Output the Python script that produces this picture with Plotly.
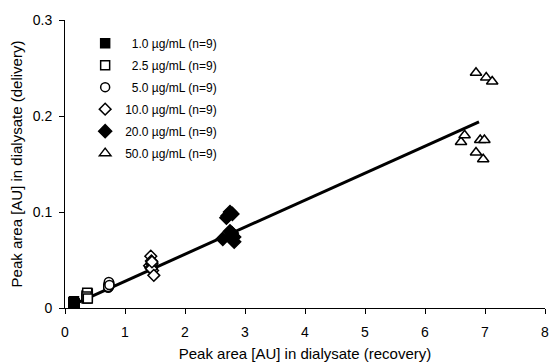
import plotly.graph_objects as go

# ---- data ----
labels = ["1.0 µg/mL (n=9)", "2.5 µg/mL (n=9)", "5.0 µg/mL (n=9)",
          "10.0 µg/mL (n=9)", "20.0 µg/mL (n=9)", "50.0 µg/mL (n=9)"]

x_1 = [0.14, 0.15, 0.16, 0.14, 0.15, 0.16, 0.15, 0.14, 0.16]
y_1 = [0.003, 0.004, 0.005, 0.006, 0.007, 0.004, 0.005, 0.006, 0.003]

x_2_5 = [0.36, 0.37, 0.38, 0.36, 0.37, 0.38, 0.37, 0.36, 0.38]
y_2_5 = [0.010, 0.011, 0.012, 0.013, 0.014, 0.015, 0.016, 0.012, 0.010]

x_5 = [0.72, 0.73, 0.74, 0.72, 0.73, 0.74, 0.73, 0.72, 0.74]
y_5 = [0.021, 0.022, 0.023, 0.024, 0.025, 0.026, 0.027, 0.022, 0.024]

x_10 = [1.41, 1.43, 1.44, 1.45, 1.43, 1.46, 1.44, 1.48, 1.45]
y_10 = [0.044, 0.054, 0.049, 0.046, 0.042, 0.039, 0.041, 0.034, 0.048]

x_20 = [2.71, 2.75, 2.79, 2.69, 2.63, 2.78, 2.82, 2.82, 2.75]
y_20 = [0.096, 0.100, 0.098, 0.094, 0.072, 0.078, 0.074, 0.069, 0.080]

x_50 = [6.85, 7.02, 7.12, 6.60, 6.66, 6.92, 6.99, 6.85, 6.97]
y_50 = [0.245, 0.240, 0.236, 0.173, 0.180, 0.175, 0.175, 0.162, 0.155]

fit_x = [0.12, 6.90]
fit_y = [0.0031, 0.1940]

x_ticks = [0, 1, 2, 3, 4, 5, 6, 7, 8]
y_ticks = [0, 0.1, 0.2, 0.3]
y_tick_text = ["0", "0.1", "0.2", "0.3"]

# ---- styles ----
series = [
    (x_1, y_1, "square", "black", 9),
    (x_2_5, y_2_5, "square", "white", 9),
    (x_5, y_5, "circle", "white", 9),
    (x_10, y_10, "diamond", "white", 9),
    (x_20, y_20, "diamond", "black", 10),
    (x_50, y_50, "triangle-up", "white", 10),
]
pad = ["\u2007", "\u2007", "\u2007", "", "", ""]

FONT = "Arial, Liberation Sans, sans-serif"
fig = go.Figure()

fig.add_trace(go.Scatter(x=fit_x, y=fit_y, mode="lines",
                         line=dict(color="black", width=3),
                         showlegend=False, hoverinfo="skip"))

for i, (xs, ys, sym, fill, sz) in enumerate(series):
    fig.add_trace(go.Scatter(
        x=xs, y=ys, mode="markers", name=pad[i] + labels[i],
        legendgroup="g%d" % i,
        marker=dict(symbol=sym, size=sz, color=fill,
                    line=dict(color="black", width=1.5)),
    ))

fig.update_layout(
    width=553, height=363,
    margin=dict(l=65, r=4, t=20, b=54),
    paper_bgcolor="white", plot_bgcolor="white",
    font=dict(family=FONT, color="black", size=14),
    legend=dict(x=0.042, y=0.97, xanchor="left", yanchor="top",
                bgcolor="rgba(0,0,0,0)", font=dict(size=12, family=FONT),
                traceorder="grouped", tracegroupgap=3, itemwidth=30),
    xaxis=dict(range=[0, 8], tickvals=x_ticks, showgrid=False, zeroline=False,
               showline=True, linecolor="black", linewidth=1,
               ticks="outside", ticklen=5, tickcolor="black",
               tickfont=dict(size=14), ticklabelstandoff=6,
               ticklabeloverflow="allow",
               title=dict(text="Peak area [AU] in dialysate (recovery)",
                          font=dict(size=15), standoff=9)),
    yaxis=dict(range=[0, 0.3], tickvals=y_ticks, ticktext=y_tick_text,
               showgrid=False, zeroline=False,
               showline=True, linecolor="black", linewidth=1,
               ticks="outside", ticklen=5, tickcolor="black",
               tickfont=dict(size=14), ticklabelstandoff=4,
               title=dict(text="Peak area [AU] in dialysate (delivery)",
                          font=dict(size=15), standoff=6)),
)

fig.write_html("out.html")
